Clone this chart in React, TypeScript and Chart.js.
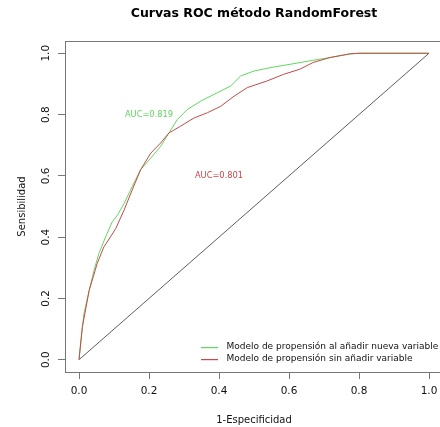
import React, { useEffect, useRef } from "react";
import { Chart, registerables } from "chart.js";

Chart.register(...registerables);

const chartTitle = "Curvas ROC método RandomForest";
const xTitle = "1-Especificidad";
const yTitle = "Sensibilidad";
const tickValues = [0, 0.2, 0.4, 0.6, 0.8, 1.0];

const greenLabel = "Modelo de propensión al añadir nueva variable";
const greenFpr = [0, 0.0066, 0.014, 0.029, 0.043, 0.057, 0.076, 0.095, 0.11, 0.129, 0.152, 0.176, 0.205, 0.233, 0.257, 0.281, 0.309, 0.348, 0.395, 0.433, 0.462, 0.5, 0.546, 0.603, 0.669, 0.717, 0.774, 0.8, 1.0];
const greenTpr = [0, 0.073, 0.15, 0.226, 0.292, 0.347, 0.401, 0.45, 0.472, 0.51, 0.565, 0.62, 0.658, 0.696, 0.74, 0.784, 0.816, 0.844, 0.871, 0.893, 0.926, 0.942, 0.953, 0.964, 0.977, 0.986, 0.998, 1.0, 1.0];

const redLabel = "Modelo de propensión sin añadir variable";
const redFpr = [0, 0.0095, 0.029, 0.052, 0.071, 0.09, 0.105, 0.129, 0.152, 0.176, 0.205, 0.233, 0.257, 0.29, 0.329, 0.367, 0.405, 0.443, 0.481, 0.536, 0.584, 0.631, 0.669, 0.717, 0.774, 0.8, 1.0];
const redTpr = [0, 0.106, 0.226, 0.314, 0.368, 0.401, 0.428, 0.489, 0.554, 0.62, 0.674, 0.707, 0.74, 0.762, 0.789, 0.806, 0.827, 0.86, 0.888, 0.909, 0.931, 0.948, 0.97, 0.986, 0.998, 1.0, 1.0];

const diagX = [0, 1];
const diagY = [0, 1];

const aucGreenText = "AUC=0.819";
const aucGreenPos = [0.2, 0.8];
const aucRedText = "AUC=0.801";
const aucRedPos = [0.4, 0.6];

const GREEN = "#5fd85f";
const RED = "#c84848";
const FONT = "'DejaVu Sans', sans-serif";

const toPts = (xs: number[], ys: number[]) => xs.map((x, i) => ({ x, y: ys[i] }));

const W = 450;
const H = 427;

export default function App() {
  const ref = useRef<HTMLCanvasElement | null>(null);

  useEffect(() => {
    const canvas = ref.current;
    if (!canvas) return;

    const decorations = {
      id: "decorations",
      afterDraw(chart: any) {
        const { ctx, chartArea, scales } = chart;
        ctx.save();
        ctx.setLineDash([]);
        ctx.globalAlpha = 1;
        // box
        ctx.strokeStyle = "#777";
        ctx.lineWidth = 1;
        ctx.strokeRect(chartArea.left + 0.5, chartArea.top + 0.5, chartArea.right - chartArea.left, chartArea.bottom - chartArea.top);
        // title
        ctx.fillStyle = "#000";
        ctx.font = `bold 12.5px ${FONT}`;
        ctx.textAlign = "center";
        ctx.textBaseline = "middle";
        ctx.fillText(chartTitle, (chartArea.left + chartArea.right) / 2, 14);
        // AUC annotations
        ctx.font = `8.3px ${FONT}`;
        ctx.fillStyle = GREEN;
        ctx.fillText(aucGreenText, scales.x.getPixelForValue(aucGreenPos[0]), scales.y.getPixelForValue(aucGreenPos[1]));
        ctx.fillStyle = RED;
        ctx.fillText(aucRedText, scales.x.getPixelForValue(aucRedPos[0]), scales.y.getPixelForValue(aucRedPos[1]));
        // legend
        const items = [
          { label: greenLabel, color: GREEN },
          { label: redLabel, color: RED },
        ];
        ctx.font = `9px ${FONT}`;
        ctx.textAlign = "left";
        items.forEach((it, i) => {
          const y = 347 + i * 12;
          ctx.fillStyle = it.color;
          ctx.fillRect(201, y, 17, 1.2);
          ctx.fillStyle = "#111";
          ctx.fillText(it.label, 226.5, y);
        });
        ctx.restore();
      },
    };

    const chart = new Chart(canvas, {
      type: "scatter",
      data: {
        datasets: [
          {
            label: redLabel,
            data: toPts(redFpr, redTpr),
            showLine: true,
            borderColor: RED,
            borderWidth: 1,
            pointRadius: 0,
            fill: false,
          },
          {
            label: greenLabel,
            data: toPts(greenFpr, greenTpr),
            showLine: true,
            borderColor: GREEN,
            borderWidth: 1,
            pointRadius: 0,
            fill: false,
          },
          {
            label: "diag",
            data: toPts(diagX, diagY),
            showLine: true,
            borderColor: "#333",
            borderWidth: 0.8,
            pointRadius: 0,
            fill: false,
          },
        ],
      },
      options: {
        responsive: false,
        animation: false,
        devicePixelRatio: 1,
        layout: { padding: { left: 0, top: 41, right: W - 443, bottom: 0 } },
        plugins: { legend: { display: false }, tooltip: { enabled: false }, title: { display: false } },
        scales: {
          x: {
            type: "linear",
            min: -0.04,
            max: 1.04,
            afterBuildTicks: (s: any) => { s.ticks = tickValues.map((v) => ({ value: v })); },
            afterFit: (s: any) => { s.height = 55; },
            grid: { display: true, drawOnChartArea: false, drawTicks: true, tickLength: 7, color: "#777", tickColor: "#777" },
            border: { display: true, color: "#777" },
            ticks: {
              padding: 6,
              color: "#111",
              font: { family: FONT, size: 10.5 },
              maxRotation: 0,
              minRotation: 0,
              autoSkip: false,
              callback: (v: any) => Number(v).toFixed(1),
            },
            title: { display: true, text: xTitle, color: "#111", font: { family: FONT, size: 10 }, padding: { top: 0, bottom: 1 } },
          },
          y: {
            type: "linear",
            min: -0.04,
            max: 1.04,
            afterBuildTicks: (s: any) => { s.ticks = tickValues.map((v) => ({ value: v })); },
            afterFit: (s: any) => { s.width = 65; },
            grid: { display: true, drawOnChartArea: false, drawTicks: true, tickLength: 7, color: "#777", tickColor: "#777" },
            border: { display: true, color: "#777" },
            ticks: {
              padding: 3,
              color: "#111",
              font: { family: FONT, size: 10.5 },
              minRotation: 90,
              maxRotation: 90,
              crossAlign: "center",
              autoSkip: false,
              callback: (v: any) => Number(v).toFixed(1),
            },
            title: { display: true, text: yTitle, color: "#111", font: { family: FONT, size: 10 }, padding: { top: 16, bottom: 0 } },
          },
        },
      },
      plugins: [decorations],
    } as any);

    return () => chart.destroy();
  }, []);

  return (
    <div style={{ position: "absolute", left: 0, top: 0, width: 440, height: 427, overflow: "hidden", background: "#fff" }}>
      <canvas ref={ref} width={W} height={H} style={{ width: W, height: H, display: "block" }} />
    </div>
  );
}
